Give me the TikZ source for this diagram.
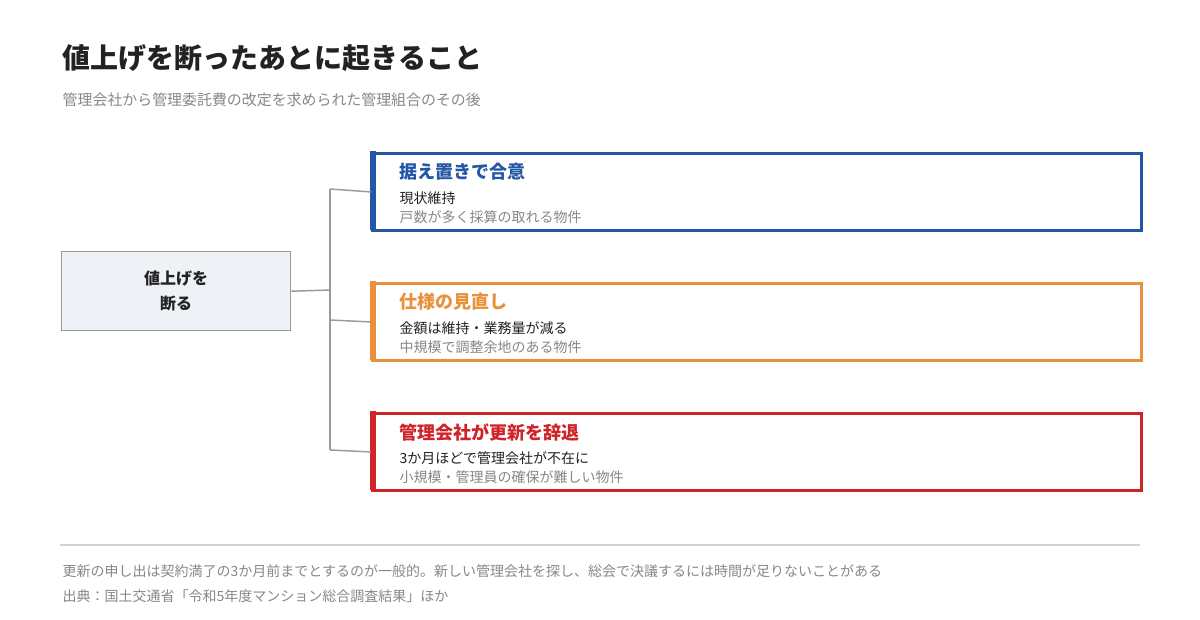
\documentclass[tikz,border=0pt]{standalone}
\usepackage{fontspec}
\setmainfont{Noto Sans CJK JP}
\definecolor{cblue}{HTML}{2456A6}
\definecolor{corange}{HTML}{E8913A}
\definecolor{cred}{HTML}{CF2327}
\definecolor{cgray}{HTML}{888888}
\definecolor{cline}{HTML}{9A9A9A}
\definecolor{cfill}{HTML}{EEF1F5}
\definecolor{ctext}{HTML}{222222}
\tikzset{
 opt/.style={draw=#1,line width=2.2pt,minimum width=769\pxu,minimum height=77\pxu,anchor=north west,inner sep=0pt},
 bar/.style={fill=#1,draw=none},
 ttl/.style={anchor=west,font=\fontsize{13.5}{16}\selectfont\bfseries,text=#1},
 l2/.style={anchor=west,font=\fontsize{10.5}{12}\selectfont,text=ctext},
 l3/.style={anchor=west,font=\fontsize{10.5}{12}\selectfont,text=cgray},
 conn/.style={draw=cline,line width=1.1pt},
 note/.style={anchor=west,font=\fontsize{10.5}{12}\selectfont,text=cgray}
}
\newlength{\pxu}\setlength{\pxu}{0.75pt}
\begin{document}
\begin{tikzpicture}[x=0.75pt,y=-0.75pt]
\useasboundingbox[fill=white] (0,0) rectangle (1200,620);
\node[anchor=west,font=\fontsize{21}{24}\selectfont\bfseries,text=ctext] (title) at (58,58) {値上げを断ったあとに起きること};
\node[anchor=west,font=\fontsize{11.2}{13}\selectfont,text=cgray] (sub) at (58,100) {管理会社から管理委託費の改定を求められた管理組合のその後};
\node[draw=cline,fill=cfill,line width=1.1pt,minimum width=229\pxu,minimum height=79\pxu,anchor=north west,inner sep=0pt,align=center,font=\fontsize{12}{19}\selectfont\bfseries,text=ctext] (root) at (61,251) {値上げを\\断る};
\node[opt=cblue] (b1) at (371,152) {};
\node[opt=corange] (b2) at (371,282) {};
\node[opt=cred] (b3) at (371,412) {};
\fill[cblue] (370,151) rectangle (376,230);
\fill[corange] (370,281) rectangle (376,360);
\fill[cred] (370,411) rectangle (376,490);
\coordinate (j) at (330,290);
\draw[conn] (root.east) -- (j);
\draw[conn] (330,189) -- (330,450);
\draw[conn] (330,189) -- (b1.west);
\draw[conn] (330,320) -- (b2.west);
\draw[conn] (330,450) -- (b3.west);
\node[ttl=cblue] (t1) at (395,172) {据え置きで合意};
\node[l2] (a1) at (395,198) {現状維持};
\node[l3] (c1) at (395,217) {戸数が多く採算の取れる物件};
\node[ttl=corange] (t2) at (395,302) {仕様の見直し};
\node[l2] (a2) at (395,328) {金額は維持・業務量が減る};
\node[l3] (c2) at (395,347) {中規模で調整余地のある物件};
\node[ttl=cred] (t3) at (395,432) {管理会社が更新を辞退};
\node[l2] (a3) at (395,458) {3か月ほどで管理会社が不在に};
\node[l3] (c3) at (395,477) {小規模・管理員の確保が難しい物件};
\draw[draw=black!18,line width=0.8pt] (60,545) -- (1140,545);
\node[note] (n1) at (58,571) {更新の申し出は契約満了の3か月前までとするのが一般的。新しい管理会社を探し、総会で決議するには時間が足りないことがある};
\node[note] (n2) at (58,596) {出典：国土交通省「令和5年度マンション総合調査結果」ほか};
\end{tikzpicture}
\end{document}
